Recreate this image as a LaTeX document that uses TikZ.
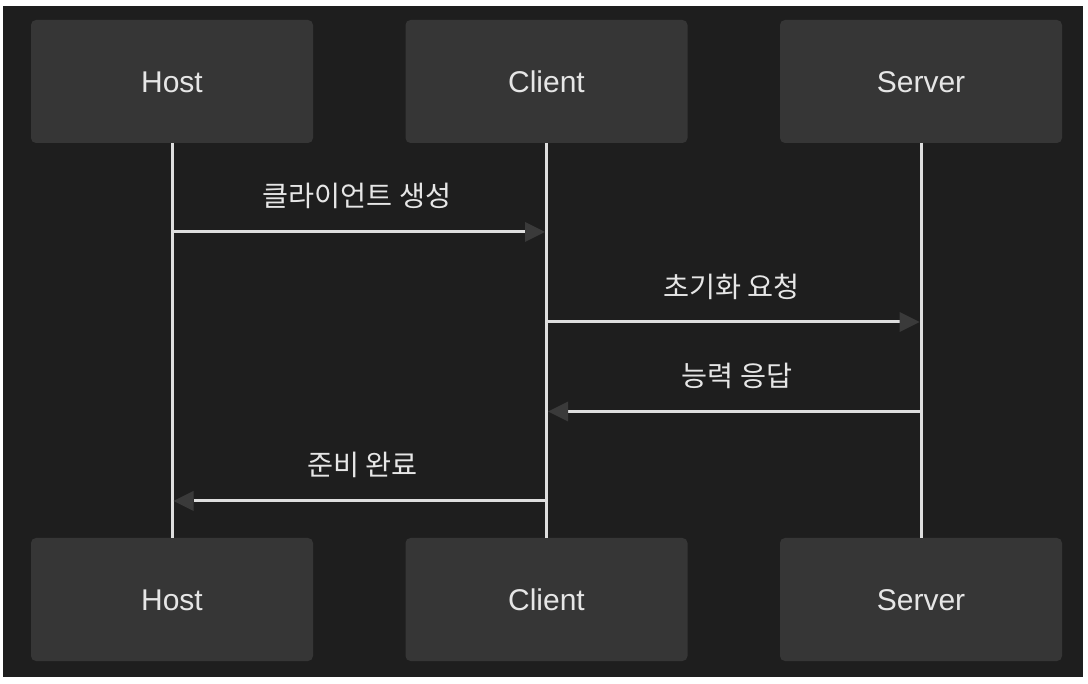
\documentclass[tikz,border=0pt]{standalone}
\usepackage{fontspec}
\setmainfont{Liberation Sans}
\newfontfamily\kr{Noto Sans CJK KR}
\usetikzlibrary{arrows.meta}
\definecolor{bg}{HTML}{1E1E1E}
\definecolor{boxfill}{HTML}{363636}
\definecolor{linecol}{HTML}{DEDEDE}
\definecolor{txt}{HTML}{E6E6E6}
\definecolor{headgray}{HTML}{3A3A3A}
\tikzset{
  actor/.style={fill=boxfill, draw=none, rounded corners=5pt, minimum width=282pt, minimum height=123pt, inner sep=0pt, text=txt, text height=21.5pt, text depth=0pt, font=\fontsize{30}{36}\selectfont},
  lifeline/.style={draw=linecol, line width=3pt},
  msg/.style={draw=linecol, line width=3pt, shorten >=1.5pt, -{Triangle[length=20pt, width=20pt, line width=0pt, color=headgray]}},
  lbl/.style={text=txt, inner sep=0pt, font=\kr\fontsize{28.3}{32}\selectfont}
}
\begin{document}
\begin{tikzpicture}[x=1pt, y=-1pt]
\useasboundingbox (0,0) rectangle (1088,684);
\fill[white] (0,0) rectangle (1088,684);
\fill[bg] (3,6) rectangle (1083,677);
% actors
\node[actor] (hostT) at (172,81.5) {Host};
\node[actor] (clientT) at (546.5,81.5) {Client};
\node[actor] (serverT) at (921,81.5) {Server};
\node[actor] (hostB) at (172,599.5) {Host};
\node[actor] (clientB) at (546.5,599.5) {Client};
\node[actor] (serverB) at (921,599.5) {Server};
% lifelines
\draw[lifeline] (hostT.south) -- (hostB.north);
\draw[lifeline] (clientT.south) -- (clientB.north);
\draw[lifeline] (serverT.south) -- (serverB.north);
% message anchor points
\coordinate (h1) at (172,232);
\coordinate (c1) at (546.5,232);
\coordinate (c2) at (546.5,322);
\coordinate (s2) at (921,322);
\coordinate (s3) at (921,411.5);
\coordinate (c3) at (546.5,411.5);
\coordinate (c4) at (546.5,501);
\coordinate (h4) at (172,501);
% messages
\draw[msg] (h1) -- (c1);
\draw[msg] (c2) -- (s2);
\draw[msg] (s3) -- (c3);
\draw[msg] (c4) -- (h4);
% labels
\node[lbl] (l1) at (357,196) {클라이언트 생성};
\node[lbl] (l2) at (731.5,287) {초기화 요청};
\node[lbl] (l3) at (737,376) {능력 응답};
\node[lbl] (l4) at (362.5,465) {준비 완료};
\end{tikzpicture}
\end{document}
